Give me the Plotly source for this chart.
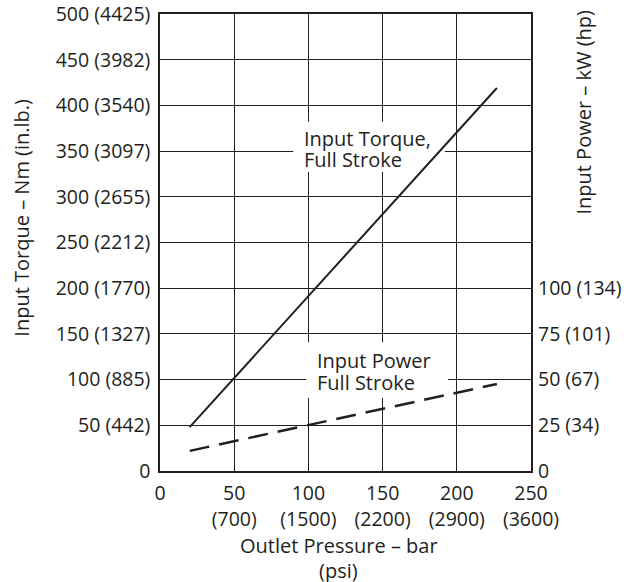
import plotly.graph_objs as go

# Values
pressure_bar = [20, 227]
torque_nm = [48, 419]
power_kw = [11, 47.6]

x_tickvals = [0, 50, 100, 150, 200, 250]
x_ticktext = ['0', '50<br>(700)', '100<br>(1500)', '150<br>(2200)', '200<br>(2900)', '250<br>(3600)']

torque_tickvals = [0, 50, 100, 150, 200, 250, 300, 350, 400, 450, 500]
torque_ticktext = ['0', '50 (442)', '100 (885)', '150 (1327)', '200 (1770)', '250 (2212)',
                   '300 (2655)', '350 (3097)', '400 (3540)', '450 (3982)', '500 (4425)']

power_tickvals = [0, 25, 50, 75, 100]
power_ticktext = ['0', '25 (34)', '50 (67)', '75 (101)', '100 (134)']

ink = '#231f20'
font = dict(family='Open Sans', size=20, color=ink)
tick_font = dict(family='Open Sans', size=19.5, color=ink)

torque = go.Scatter(x=pressure_bar, y=torque_nm, mode='lines',
                    line=dict(color=ink, width=2), showlegend=False)
power = go.Scatter(x=pressure_bar, y=power_kw, mode='lines', yaxis='y2',
                   line=dict(color=ink, width=2.5, dash='20px,10px'), showlegend=False)


def label(text, x, y):
    return dict(text=text, x=x, y=y, xref='x', yref='y', xanchor='left', yanchor='middle',
                showarrow=False, font=font)


def paper_text(text, x, y, angle=0):
    return dict(text=text, x=x, y=y, xref='paper', yref='paper', xanchor='center',
                yanchor='middle', textangle=angle, showarrow=False, font=font)


# white patches behind the in-plot labels, they hide the grid but not the lines
try:
    go.layout.Shape(layer='between')
    patch_layer = 'between'
except ValueError:
    patch_layer = 'below'

patches = [
    dict(type='rect', xref='x', yref='y', x0=89.8, x1=192, y0=327, y1=382,
         fillcolor='white', line=dict(width=0), layer=patch_layer),
    dict(type='rect', xref='x', yref='y', x0=98.6, x1=194, y0=80, y1=141,
         fillcolor='white', line=dict(width=0), layer=patch_layer),
]

layout = go.Layout(
    width=628, height=582,
    font=font,
    plot_bgcolor='white', paper_bgcolor='white',
    margin=dict(l=160, r=97, t=14, b=111),
    xaxis=dict(range=[0, 250], tickvals=x_tickvals, ticktext=x_ticktext, automargin=False,
               showgrid=True, gridcolor=ink, gridwidth=1, zeroline=False,
               showline=True, linecolor=ink, linewidth=1.5, mirror=True, ticks='',
               ticklabelstandoff=4, tickfont=tick_font, ticklabeloverflow='allow'),
    yaxis=dict(range=[0, 500], tickvals=torque_tickvals, ticktext=torque_ticktext, automargin=False,
               showgrid=True, gridcolor=ink, gridwidth=1, zeroline=False,
               showline=True, linecolor=ink, linewidth=1.5, mirror=True, ticks='',
               ticklabelstandoff=4, tickfont=tick_font, ticklabeloverflow='allow'),
    yaxis2=dict(range=[0, 250], tickvals=power_tickvals, ticktext=power_ticktext, automargin=False,
                overlaying='y', side='right', showgrid=False, zeroline=False,
                showline=False, ticks='', ticklabelstandoff=6, tickfont=tick_font,
                ticklabeloverflow='allow'),
    shapes=patches,
    annotations=[
        label('Input Torque,', 95.5, 364),
        label('Full Stroke', 95.5, 341),
        label('Input Power', 104.5, 121),
        label('Full Stroke', 104.5, 97),
        paper_text('Input Torque \u2013 Nm (in.lb.)', -0.3755, 0.5536, -90),
        paper_text('Input Power \u2013 kW (hp)', 1.141, 0.785, -90),
        paper_text('Outlet Pressure \u2013 bar', 0.482, -0.162),
        paper_text('(psi)', 0.482, -0.217),
    ],
)

fig = go.Figure(data=[torque, power], layout=layout)
# drop the page's default body margin so the figure sits at the window's corner
fig.write_html("out.html", config={'displayModeBar': False},
               post_script="document.body.style.margin = '0';")
